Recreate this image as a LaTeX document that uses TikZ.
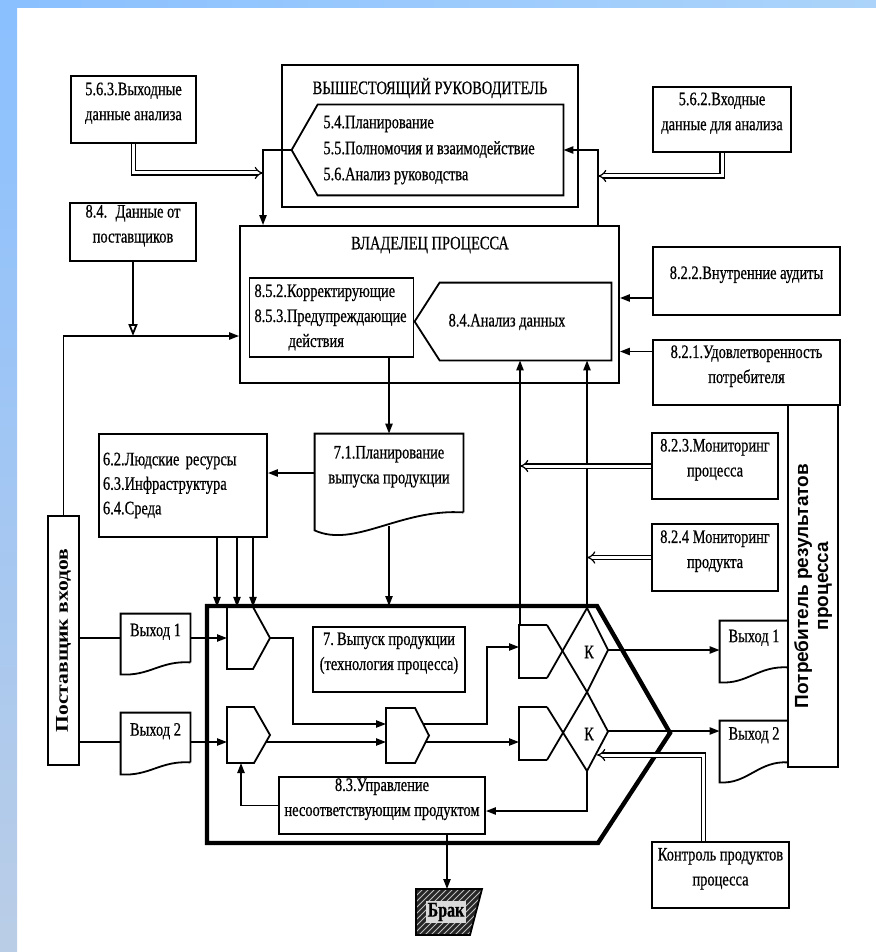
\documentclass[tikz,border=0pt]{standalone}
\usepackage{fontspec}
\setmainfont{Liberation Serif}[FakeStretch=0.76, FakeBold=0.6]
\newfontfamily\supfont{Liberation Serif}[FakeStretch=1.2]
\newfontfamily\consfont{Liberation Sans}
\usetikzlibrary{arrows.meta, calc, fit, patterns}
\definecolor{BandBlue}{RGB}{138, 192, 255}
\definecolor{BandPale}{RGB}{186, 205, 230}
\definecolor{BandTop}{RGB}{172, 212, 250}

\tikzset{
  ln/.style={line width=0.9pt},
  blk/.style={draw, ln, inner sep=0pt, align=center, font=\fontsize{9.5}{12.5}\selectfont},
  txt/.style={inner sep=0pt, align=center, font=\fontsize{9.5}{12.5}\selectfont},
  arr/.style={ln, -{Triangle[length=5pt, width=3.6pt]}},
  openarr/.style={ln, -{Triangle[open, length=6pt, width=4.5pt]}},
  dbl/.style={double, double distance=1.5pt, line width=0.6pt, -{Implies}},
  bound/.style={line width=2.2pt},
}

\begin{document}
\begin{tikzpicture}[x=0.5pt,y=-0.5pt]
  \path[use as bounding box] (0,0) rectangle (876,952);
  \fill[white] (0,0) rectangle (876,952);
  \shade[top color=BandBlue, bottom color=BandPale] (0,0) rectangle (17,952);
  \shade[left color=BandBlue, right color=BandTop] (17,0) rectangle (876,8);

  % upper management
  \node[blk, fit={(282,65) (578,207)}] (mgr) {};
  \node[txt] (mgrtitle) at (430,88) {ВЫШЕСТОЯЩИЙ РУКОВОДИТЕЛЬ};
  \node[fit={(318,105) (563,195)}, inner sep=0pt] (tasks) {};
  \draw[ln] (tasks.north west) -- (tasks.north east) -- (tasks.south east) -- (tasks.south west)
    -- ($(tasks.west)+(-26,0)$) coordinate (taskstip) -- cycle;
  \node[txt, anchor=west, align=left, font=\fontsize{9.5}{13}\selectfont] (taskstxt) at (323,150)
    {5.4.Планирование\\5.5.Полномочия и взаимодействие\\5.6.Анализ руководства};
  \node[blk, fit={(71,76) (196,143)}] (outan) {5.6.3.Выходные\\данные анализа};
  \node[blk, fit={(653,87) (791,152)}] (inan) {5.6.2.Входные\\данные для анализа};

  % process owner
  \node[blk, fit={(240,226) (619,383)}] (owner) {};
  \node[txt] (ownertitle) at (430,245) {ВЛАДЕЛЕЦ ПРОЦЕССА};
  \node[blk, align=left, text width=77pt, inner xsep=2.5pt, minimum height=39.5pt] (corr) at (331.5,317.5)
    {8.5.2.Корректирующие\\8.5.3.Предупреждающие\\\hspace*{17pt}действия};
  \node[fit={(440,283) (611,360)}, inner sep=0pt] (an) {};
  \draw[ln] (an.north west) -- (an.north east) -- (an.south east) -- (an.south west)
    -- ($(an.west)+(-25,0)$) -- cycle;
  \node[txt] (antxt) at (507,322) {8.4.Анализ данных};

  % side boxes
  \node[blk, fit={(70,203) (196,261)}] (supdata) {8.4.~ Данные от\\поставщиков};
  \node[blk, fit={(653,247) (840,315)}] (audit) {8.2.2.Внутренние аудиты};
  \node[blk, fit={(653,340) (840,405)}] (satisf) {8.2.1.Удовлетворенность\\потребителя};
  \node[blk, fit={(652,433) (778,499)}] (mproc) {8.2.3.Мониторинг\\процесса};
  \node[blk, fit={(652,524) (778,591)}] (mprod) {8.2.4 Мониторинг\\продукта};
  \node[blk, fit={(788,405) (838,767)}] (cons) {};
  \node[txt, rotate=90, font=\consfont\bfseries\fontsize{9.5}{10}\selectfont] (constxt) at (cons.center)
    {Потребитель результатов\\процесса};
  \node[blk, fit={(652,842) (789,908)}] (ctrl) {Контроль продуктов\\процесса};

  % resources and planning
  \node[blk, align=left, text width=80pt, inner xsep=2pt, minimum height=51.5pt,
    font=\fontsize{9.5}{12.25}\selectfont] (res) at (183,485.5)
    {6.2.Людские ресурсы\\6.3.Инфраструктура\\6.4.Среда};
  \node[txt, fit={(315,434) (463,512)}] (plan) {7.1.Планирование\\выпуска продукции};
  \draw[ln] (plan.south east) -- (plan.north east) -- (plan.north west) -- ($(plan.south west)+(0,18)$)
    .. controls +(40,18) and +(-63,-4) .. (plan.south east);

  % supplier and inputs
  \node[blk, fit={(48,516) (79,765)}] (sup) {};
  \node[txt, rotate=90, font=\supfont\bfseries\fontsize{9}{10}\selectfont] (suptxt) at (sup.center) {Поставщик входов};
  \node[txt, fit={(121,614) (190,662)}] (inone) {Выход 1};
  \draw[ln] (inone.south east) -- (inone.north east) -- (inone.north west) -- ($(inone.south west)+(0,12)$)
    .. controls +(29,2) and +(-30,-2) .. (inone.south east);
  \node[txt, fit={(121,713) (190,762)}] (intwo) {Выход 2};
  \draw[ln] (intwo.south east) -- (intwo.north east) -- (intwo.north west) -- ($(intwo.south west)+(0,12)$)
    .. controls +(29,2) and +(-30,-2) .. (intwo.south east);
  \node[txt, fit={(720,621) (788,667)}] (outone) {Выход 1};
  \draw[ln] (outone.north east) -- (outone.north west) -- ($(outone.south west)+(0,15)$)
    .. controls +(28,2) and +(-30,-2) .. (outone.south east);
  \node[txt, fit={(720,721) (788,762)}] (outtwo) {Выход 2};
  \draw[ln] (outtwo.north east) -- (outtwo.north west) -- ($(outtwo.south west)+(0,20)$)
    .. controls +(28,2) and +(-30,-2) .. (outtwo.south east);

  % production area
  \draw[bound] (207,606) coordinate (bndtl) -- (597,606) -- (670,733) -- (598,843) -- (207,843) -- cycle;
  \node[blk, fit={(313,627) (465,692)}] (prod) {7.\,Выпуск продукции\\(технология процесса)};
  \node[blk, fit={(279,777) (485,834)}] (ncm) {8.3.Управление\\несоответствующим продуктом};
  \foreach \gx/\gc/\gt/\gb/\gp in {227/253/607/669/270, 227/254/707/763/270, 386/415/708/763/429}{
    \draw[ln] (\gc,\gt) -- (\gx,\gt) -- (\gx,\gb) -- (\gc,\gb) -- (\gp,{(\gt+\gb)/2}) -- cycle;
  }
  \foreach \ct/\cb/\kt/\kb in {625/678/608/692, 707/760/692/771}{
    \draw[ln] (547,\ct) -- (519,\ct) -- (519,\cb) -- (547,\cb);
    \draw[ln] (547,\ct) -- (587,\kb);
    \draw[ln] (547,\cb) -- (587,\kt) -- (608,{(\kt+\kb)/2}) -- (587,\kb);
  }
  \node[txt] (kone) at (589,652) {К};
  \node[txt] (ktwo) at (589,734) {К};
  \coordinate (a1i) at (227,638);  \coordinate (a1o) at (270,638);
  \coordinate (a2i) at (227,742);  \coordinate (a2o) at (266,742);
  \coordinate (a2b) at (241,763);
  \coordinate (b1i) at (386,724);  \coordinate (b1o) at (423,724);
  \coordinate (b2i) at (386,742);  \coordinate (b2o) at (425,742);
  \coordinate (c1i) at (519,647);  \coordinate (c2i) at (519,742);
  \coordinate (c1t) at (520,625);  \coordinate (k1t) at (587,608);
  \coordinate (k1r) at (608,650);  \coordinate (k2r) at (608,731);
  \coordinate (k2c) at (597,755);  \coordinate (k2b) at (587,771);

  % reject
  \coordinate (brakt) at (447,889);
  \fill[black!85] (416,889) -- (482,889) -- (470,935) -- (416,935) -- cycle;
  \fill[pattern=north east lines, pattern color=white!75!black] (416,889) -- (482,889) -- (470,935) -- (416,935) -- cycle;
  \draw[ln] (416,889) -- (482,889) -- (470,935) -- (416,935) -- cycle;
  \node[txt, fill=gray!30, inner sep=1pt, font=\bfseries\fontsize{10.5}{11}\selectfont] (brak) at (446,912) {Брак};

  % top loop
  \coordinate (lin) at (263,173);
  \coordinate (rin) at (598,176);
  \draw[arr] (taskstip) -| (lin |- owner.north);
  \draw[arr] (rin |- owner.north) |- (tasks.east);
  \draw[dbl] (outan.south) |- (lin);
  \draw[dbl] (inan.south) |- (rin);

  % inputs of the owner
  \coordinate (auditin) at ($(audit.west)+(0,17)$);
  \coordinate (satin) at ($(satisf.west)+(0,-21)$);
  \draw[arr] (auditin) -- (auditin -| owner.east);
  \draw[arr] (satin) -- (satin -| owner.east);
  \coordinate (feed) at ($(owner.west)+(0,31.5)$);
  \draw[arr] (sup.north) |- (feed);
  \draw[openarr] (supdata.south) -- (supdata.south |- feed);

  % planning
  \draw[arr] (corr.south -| plan.north) -- (plan.north);
  \draw[arr] (plan.west) -- (plan.west -| res.east);
  \coordinate (planb) at ($(plan.south)+(0,14)$);
  \draw[arr] (planb) -- (planb |- bndtl);
  \foreach \dx in {34,54,70}{
    \draw[arr] ($(res.south)+(\dx,0)$) -- ($(res.south)+(\dx,69)$);
  }

  % monitoring
  \draw[arr] (c1t) -- (c1t |- an.south);
  \draw[arr] (k1t) -- (k1t |- an.south);
  \draw[dbl] (mproc.west) -- (mproc.west -| c1t);
  \draw[dbl] (mprod.west) -- (mprod.west -| k1t);

  % flow through the process
  \draw[ln] (sup.east |- inone.west) -- (inone.west);
  \draw[ln] (sup.east |- a2i) -- (intwo.west |- a2i);
  \draw[arr] (inone.east) -- (a1i);
  \draw[arr] (intwo.east |- a2i) -- (a2i);
  \draw[arr] (a1o) -- ++(23,0) |- (b1i);
  \draw[arr] (a2o) -- (b2i);
  \draw[arr] (b1o) -- ++(64,0) |- (c1i);
  \draw[arr] (b2o) -- (c2i);
  \draw[arr] (k1r) -- (k1r -| outone.west);
  \draw[arr] (k2r) -- (k2r -| outtwo.west);
  \draw[dbl] ($(ctrl.north)+(-17,0)$) |- (k2c);
  \draw[arr] (k2b) |- ($(ncm.east)+(0,5.5)$);
  \draw[arr] (ncm.west) -| (a2b);
  \draw[arr] (ncm.south -| brakt) -- (brakt);
\end{tikzpicture}
\end{document}
